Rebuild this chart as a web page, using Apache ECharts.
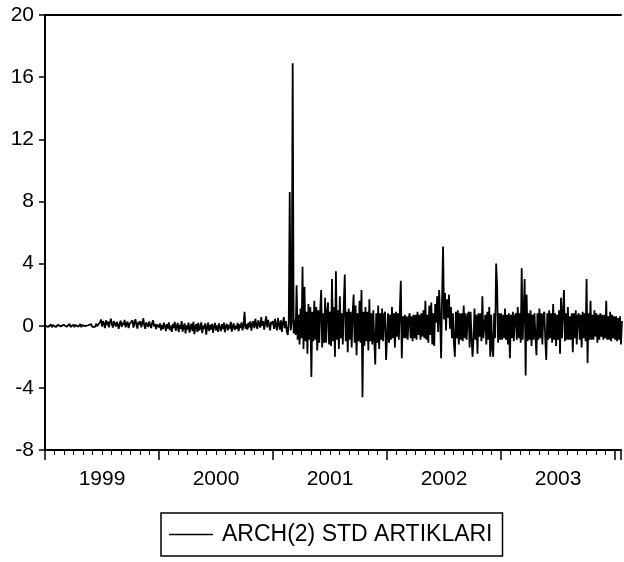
<!DOCTYPE html>
<html>
<head>
<meta charset="utf-8">
<script src="https://cdn.jsdelivr.net/npm/echarts@6/dist/echarts.min.js"></script>
<style>
html,body{margin:0;padding:0;background:#fff;}
#chart{width:624px;height:562px;}
</style>
</head>
<body>
<div id="chart"></div>
<script>
// Axis settings (years on x, value on y)
var yTicks = [-8, -4, 0, 4, 8, 12, 16, 20];
var years = [1999, 2000, 2001, 2002, 2003, 2004];
var seriesName = 'ARCH(2) STD ARTIKLARI';

// Values, one list per calendar year (evenly spaced through each year)
var y1999 = [
0.02,-0.05,0.06,-0.08,0.03,-0.02,0.08,-0.1,0.04,-0.03,
0.07,-0.09,0.02,0.05,-0.06,0.1,-0.04,0.01,-0.11,0.06,
-0.02,0.09,-0.07,0.03,-0.05,0.12,-0.08,0.04,-0.02,0.07,
-0.1,0.05,-0.03,0.08,-0.06,0.02,0.11,-0.09,0.04,-0.05,
0.09,-0.02,0.06,-0.12,0.03,0.07,-0.04,0.1,-0.07,0.02,
0.05,-0.08,0.13,-0.03,0.06,-0.1,
0.22,0.4,-0.05,0.3,0.12,-0.15,0.35,0.05,0.28,-0.1,
0.2,0.45,0.1,-0.12,0.3,0.18,-0.05,0.25,0.08,-0.2,
0.15,0.32,-0.08,0.2,0.05,0.38,-0.1,0.12,0.27,-0.15,
0.1,0.22,0.02,0.35,-0.12,0.18,0.42,0.05,-0.18,0.25,
0.08,0.3,-0.1,0.15,0.48,0.02,-0.2,0.22,0.1,-0.08,
0.28,0.05,-0.15,0.18,0.35,-0.05,0.12,-0.22,0.08,0.2
];
var y2000 = [
-0.1,0.15,-0.3,0.05,-0.22,0.2,-0.05,-0.35,0.1,-0.18,
0.22,-0.28,0.0,-0.4,0.12,-0.15,0.25,-0.32,-0.05,0.18,
-0.42,0.05,-0.2,0.3,-0.38,-0.08,0.15,-0.5,0.02,-0.25,
0.2,-0.45,-0.1,0.12,-0.35,0.25,-0.55,-0.05,0.1,-0.4,
0.18,-0.3,-0.12,0.22,-0.48,0.0,-0.2,0.15,-0.58,-0.1,
0.2,-0.35,0.05,-0.25,0.12,-0.45,-0.05,0.18,-0.3,0.02,
-0.4,0.15,-0.15,-0.35,0.1,-0.22,0.2,-0.42,-0.02,0.12,
-0.3,0.05,-0.18,0.25,-0.38,-0.05,0.15,-0.28,0.0,-0.2,
0.18,-0.35,0.08,-0.15,0.22,-0.3,0.05,0.9,-0.2,0.1,
-0.25,0.2,-0.1,0.28,-0.32,0.12,0.3,-0.15,0.45,0.05,
-0.2,0.35,0.1,-0.12,0.55,0.0,0.3,-0.25,0.2,0.6,
-0.1,0.38,0.05,-0.3,0.25,0.1
];
var y2001 = [
0.3,-0.2,0.45,0.0,-0.3,0.5,0.1,-0.25,0.35,-0.4,
0.2,0.55,-0.15,0.3,-0.35,-0.6,0.2,8.6,-0.3,0.2,
16.9,-0.5,0.4,-0.6,2.6,-0.9,0.7,-1.2,1.1,-0.8,
3.8,-1.5,2.5,-1.0,0.9,-1.8,1.4,-0.9,1.2,-3.3,
0.9,-1.0,1.6,-0.9,1.2,-1.6,1.0,-1.1,1.0,2.3,
-1.4,0.8,-1.1,1.8,-1.1,0.9,1.5,-1.2,0.9,-1.3,
3.0,-1.0,1.2,-2.0,3.5,-0.9,1.0,-1.5,1.9,-0.8,
0.8,-1.2,1.4,3.3,-1.0,0.9,-1.7,1.1,-0.9,0.9,
-1.4,0.8,2.0,-1.1,1.3,-1.9,0.8,-1.0,1.6,-1.1,
2.3,-4.6,0.9,-1.3,1.2,-1.0,0.9,-1.6,1.7,-1.0,
0.8,-1.2,1.0,-0.9,-2.5,0.8,-1.1,1.3,-1.5,0.8,
-0.9,1.1,-1.0,0.7,0.9,-2.2
];
var y2002 = [
-0.8,0.8,-1.1,0.7,-0.9,1.2,-0.8,0.8,-1.4,0.9,
-0.7,0.8,-0.9,1.0,2.9,-2.1,0.6,-0.8,0.7,-0.8,
0.6,-0.9,0.5,0.8,-0.8,0.6,-1.0,0.7,-0.8,0.7,
-0.9,0.9,-0.6,0.7,-0.9,0.8,-0.7,1.0,-0.8,1.6,
-0.9,0.7,-1.1,1.3,-0.6,1.5,-1.2,0.8,-1.3,1.4,
0.2,1.9,-0.4,2.3,0.6,-2.1,1.8,5.1,0.4,2.1,
-0.3,1.7,0.5,2.0,-0.2,1.2,-0.8,0.8,-1.1,-2.0,
0.9,-0.8,1.0,-1.2,0.8,-0.9,0.8,-1.0,1.3,-0.8,
0.8,-0.9,0.6,0.9,-1.4,0.9,-0.8,-2.0,-0.8,1.1,
-0.9,0.7,-1.8,0.8,-0.7,0.8,-1.0,1.9,-0.8,-0.9,
0.7,-1.2,0.9,-0.9,1.2,-2.0,0.7,-1.5,-2.0,0.8,
-0.8,4.0,2.5,-1.1,0.8,-0.9
];
var y2003 = [
0.8,-0.9,0.7,-0.8,1.1,-0.9,0.7,-1.2,0.8,-2.1,
0.7,-0.8,0.9,-1.0,0.6,0.8,-0.9,1.2,-0.8,0.8,
-1.1,3.7,-0.9,0.9,3.0,-3.2,2.0,-1.0,0.8,-0.9,
1.0,-1.3,0.7,-0.9,0.8,-0.7,-1.9,0.8,-0.9,1.1,
-0.8,0.8,-1.2,0.7,0.9,-0.9,-2.2,0.8,-0.9,1.0,
-0.8,0.8,-1.1,1.4,-0.9,0.8,-1.3,0.7,-0.9,1.0,
-1.8,1.8,-0.8,0.9,2.3,-1.0,0.8,-0.9,1.2,-0.9,
0.6,-0.9,0.8,-1.7,0.8,-0.8,1.0,-1.2,0.6,0.8,
-0.9,0.7,-1.4,0.9,-0.8,0.8,-1.0,3.0,-2.4,0.8,
-0.9,1.6,-0.9,0.7,-0.9,1.0,-0.7,0.8,-1.1,0.7,
-0.9,0.8,-0.7,0.7,-0.9,0.7,-0.8,1.6,-0.9,0.6,
-0.9,0.9,-1.0,0.7,-0.8,0.6
];
var y2004 = [-0.9,0.6,-1.0,0.5,-0.9,0.6,-1.2,0.3];

var yearLists = [y1999, y2000, y2001, y2002, y2003, y2004];
var POINTS_PER_YEAR = 116;
var data = [];
yearLists.forEach(function (arr, k) {
  arr.forEach(function (v, i) {
    data.push([years[k] + i / POINTS_PER_YEAR, v]);
  });
});

var XMIN = 1999, XMAX = 2004.052;
var FONT = '"Liberation Sans", Arial, sans-serif';

var chart = echarts.init(document.getElementById('chart'), null, {renderer: 'canvas'});
chart.setOption({
  animation: false,
  backgroundColor: '#fff',
  grid: {left: 45, top: 15, right: 0, bottom: 112, show: false},
  legend: {
    left: 161, top: 513, orient: 'horizontal',
    borderColor: '#000', borderWidth: 1.5, borderRadius: 0,
    padding: [10, 10, 10, 8],
    itemWidth: 44, itemHeight: 1.5, itemGap: 10,
    icon: 'rect',
    textStyle: {fontSize: 23, color: '#000', fontFamily: FONT, padding: [0, 0, 0, 4]},
    data: [seriesName]
  },
  xAxis: [
    {
      type: 'value', min: XMIN, max: XMAX, interval: 1, position: 'bottom',
      axisLine: {show: true, onZero: false, lineStyle: {color: '#000', width: 2}},
      axisTick: {show: true, length: 10, lineStyle: {color: '#000', width: 1.5}},
      minorTick: {show: true, splitNumber: 12, length: 5, lineStyle: {color: '#000', width: 1}},
      axisLabel: {show: false},
      splitLine: {show: false}
    },
    {
      type: 'value', min: XMIN, max: XMAX, interval: 0.5, position: 'bottom',
      axisLine: {show: false},
      axisTick: {show: false},
      splitLine: {show: false},
      axisLabel: {
        show: true, margin: 19, color: '#000', fontSize: 21, fontFamily: FONT,
        formatter: function (v) {
          var h = Math.round(v * 2);
          return (h % 2 === 1) ? String(Math.floor(v)) : '';
        }
      }
    },
    {
      type: 'value', min: XMIN, max: XMAX, position: 'top',
      axisLine: {show: true, onZero: false, lineStyle: {color: '#000', width: 2}},
      axisTick: {show: false},
      axisLabel: {show: false},
      splitLine: {show: false}
    }
  ],
  yAxis: {
    type: 'value', min: yTicks[0], max: yTicks[yTicks.length - 1], interval: 4,
    axisLine: {show: true, onZero: false, lineStyle: {color: '#000', width: 2}},
    axisTick: {show: true, length: 6, lineStyle: {color: '#000', width: 1.5}},
    axisLabel: {color: '#000', fontSize: 21, fontFamily: FONT, margin: 11},
    splitLine: {show: false}
  },
  series: [{
    name: seriesName,
    type: 'line',
    xAxisIndex: 0, yAxisIndex: 0,
    data: data,
    symbol: 'none',
    showSymbol: false,
    lineStyle: {color: '#000', width: 1.8},
    itemStyle: {color: '#000'}
  }]
});
</script>
</body>
</html>
